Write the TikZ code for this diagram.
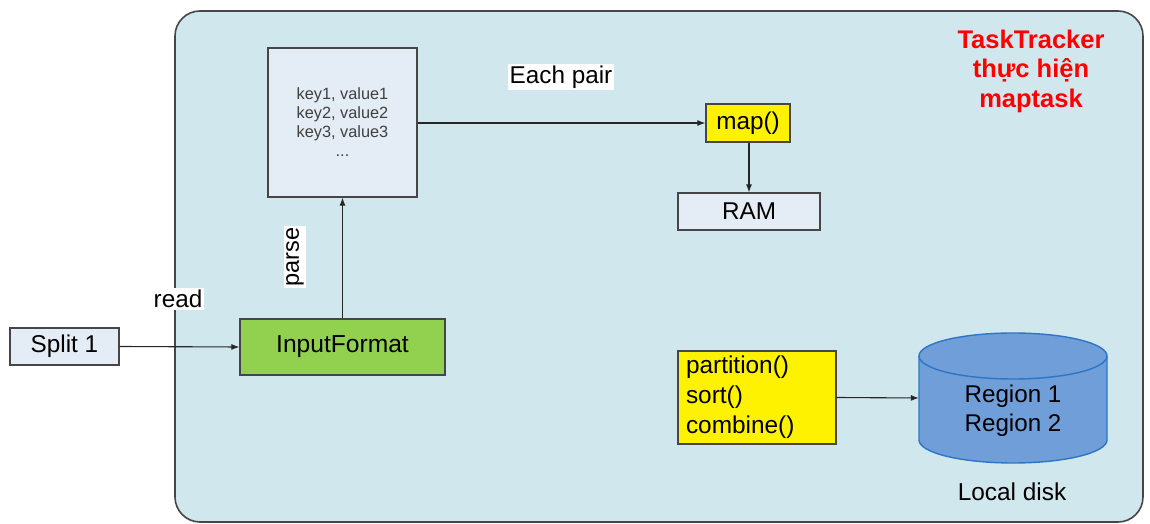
\documentclass[tikz,border=0pt]{standalone}
\usepackage{fontspec}
\setmainfont{Liberation Sans}
\usetikzlibrary{arrows.meta}
\definecolor{bgblue}{RGB}{208,231,237}
\definecolor{lightbox}{RGB}{228,236,246}
\definecolor{ygreen}{RGB}{146,208,80}
\definecolor{diskfill}{RGB}{112,158,216}
\definecolor{diskline}{RGB}{46,117,198}
\definecolor{edge}{RGB}{70,70,70}
\begin{document}
\begin{tikzpicture}[x=1pt,y=1pt,
  box/.style={draw=edge, line width=1.2pt, inner sep=0pt, font=\fontsize{24.3}{29}\selectfont},
  lbl/.style={fill=white, inner sep=2pt, font=\fontsize{24.3}{29}\selectfont},
  arr/.style={-{Latex[length=8pt,width=6pt]}, line width=1.1pt, draw=black!85}]
\useasboundingbox (0,0) rectangle (1150,524);
% outer container
\node[draw=edge, line width=1.6pt, fill=bgblue, rounded corners=25pt, minimum width=968pt, minimum height=511pt, inner sep=0pt] (outer) at (659,257.5) {};
% title
\node[text=red, font=\fontsize{25.5}{29.5}\selectfont\bfseries, align=center] (title) at (1031,453) {TaskTracker\\thực hiện\\maptask};
% key box
\node[box, fill=lightbox, minimum width=149pt, minimum height=149pt, align=center, text=black!75, font=\fontsize{16.3}{19}\selectfont] (keys) at (342.5,401.5) {key1, value1\\key2, value2\\key3, value3\\...};
% map and RAM
\node[box, fill=yellow, minimum width=84pt, minimum height=38pt] (map) at (748,401) {map()};
\node[box, fill=lightbox, minimum width=142pt, minimum height=37pt] (ram) at (749,312.5) {RAM};
% split and inputformat
\node[box, fill=lightbox, minimum width=109pt, minimum height=37pt] (split) at (64.5,177.5) {Split 1};
\node[box, fill=ygreen, minimum width=205pt, minimum height=56pt, font=\fontsize{24.6}{29}\selectfont] (input) at (342.5,177) {InputFormat};
% partition box
\node[box, fill=yellow, minimum width=158pt, minimum height=93pt, align=left, text width=142pt, font=\fontsize{24.4}{30}\selectfont] (part) at (757,126.5) {partition()\\sort()\\combine()};
% cylinder
\fill[diskfill] (919,168) -- (919,84) arc[start angle=180,end angle=360,x radius=94,y radius=23] -- (1107,168) arc[start angle=0,end angle=180,x radius=94,y radius=23] -- cycle;
\draw[diskline, line width=1.4pt] (919,168) -- (919,84) arc[start angle=180,end angle=360,x radius=94,y radius=23] -- (1107,168);
\draw[diskline, line width=1.4pt] (1013,168) ellipse[x radius=94,y radius=23];
\node[minimum width=188pt, minimum height=84pt, inner sep=0pt] (disk) at (1013,126) {};
\node[align=center, font=\fontsize{24.2}{29}\selectfont] (regions) at (1013,113) {Region 1\\Region 2};
\node[font=\fontsize{24.4}{29}\selectfont] (local) at (1012,32) {Local disk};
% labels
\node[lbl] (each) at (561,447) {Each pair};
\node[lbl] (read) at (178,225) {read};
\node[lbl, rotate=90, font=\fontsize{23.5}{28}\selectfont] (parse) at (295,267) {parse};
% connectors
\draw[arr] (split.east) -- (input.west);
\draw[arr] (input.north) -- (keys.south);
\draw[arr] (keys.east |- map.west) -- (map.west);
\draw[arr] (map.south -| ram.north) -- (ram.north);
\draw[arr] (part.east) -- (disk.west);
\end{tikzpicture}
\end{document}
